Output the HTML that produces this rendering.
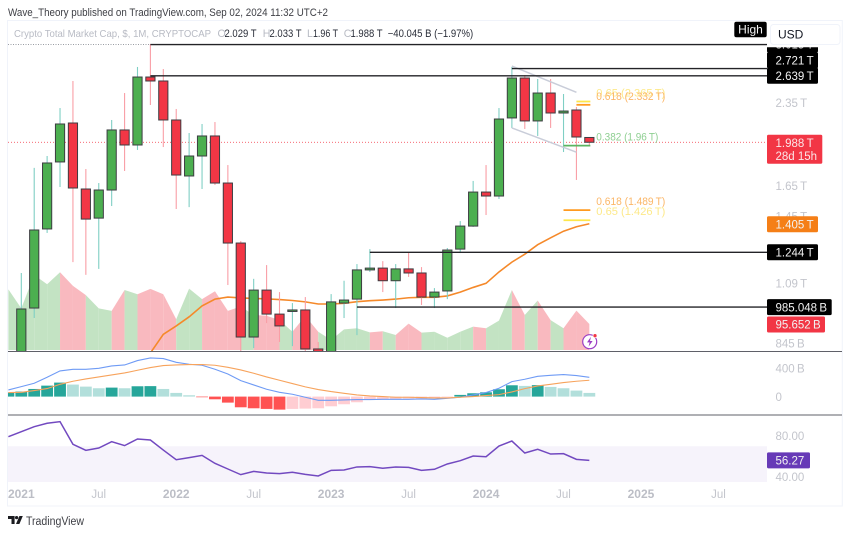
<!DOCTYPE html>
<html lang="en">
<head>
<meta charset="utf-8">
<title>Crypto Total Market Cap chart</title>
<style>
html,body{margin:0;padding:0;background:#fff;width:850px;height:534px;overflow:hidden}
svg{display:block;font-family:"Liberation Sans",Arial,sans-serif;filter:blur(0.35px)}
</style>
</head>
<body>
<svg id="chart" xmlns="http://www.w3.org/2000/svg" width="850" height="534" viewBox="0 0 850 534">
  <defs>
    <clipPath id="price-clip"><rect x="8" y="40" width="759" height="311"/></clipPath>
    <clipPath id="macd-clip"><rect x="8" y="352" width="759" height="63"/></clipPath>
    <clipPath id="rsi-clip"><rect x="8" y="416" width="759" height="66"/></clipPath>
    <clipPath id="label-clip"><rect x="760" y="47.3" width="85" height="300"/></clipPath>
  </defs>
  <rect x="0" y="0" width="850" height="534" fill="#ffffff"/>
  <rect x="7.5" y="20.5" width="834.8" height="485.5" fill="none" stroke="#f0f3fa"/>
  <text x="8" y="16" font-size="10.8" fill="#3f4046" textLength="320" lengthAdjust="spacingAndGlyphs">Wave_Theory published on TradingView.com, Sep 02, 2024 11:32 UTC+2</text>
  <text x="14" y="37" font-size="10.4" fill="#b8bbc4" textLength="197" lengthAdjust="spacingAndGlyphs">Crypto Total Market Cap, $, 1M, CRYPTOCAP</text>
  <g font-size="10.6">
    <text x="217.5" y="37" fill="#b8bbc4">O</text>
    <text x="224.5" y="37" fill="#2a2e39" textLength="32" lengthAdjust="spacingAndGlyphs">2.029 T</text>
    <text x="262.7" y="37" fill="#b8bbc4">H</text>
    <text x="269.5" y="37" fill="#2a2e39" textLength="32" lengthAdjust="spacingAndGlyphs">2.033 T</text>
    <text x="307" y="37" fill="#b8bbc4">L</text>
    <text x="313" y="37" fill="#2a2e39" textLength="25" lengthAdjust="spacingAndGlyphs">1.96 T</text>
    <text x="343.7" y="37" fill="#b8bbc4">C</text>
    <text x="350.5" y="37" fill="#2a2e39" textLength="32" lengthAdjust="spacingAndGlyphs">1.988 T</text>
    <text x="387.7" y="37" fill="#2a2e39" textLength="85.5" lengthAdjust="spacingAndGlyphs">−40.045 B (−1.97%)</text>
  </g>
  <g id="price-pane" clip-path="url(#price-clip)"></g>
  <g id="macd-pane" clip-path="url(#macd-clip)"></g>
  <g id="rsi-pane" clip-path="url(#rsi-clip)"></g>
  <line x1="8" x2="842" y1="351.5" y2="351.5" stroke="#5f6068" stroke-width="1"/>
  <line x1="8" x2="842" y1="415" y2="415" stroke="#5f6068" stroke-width="1"/>
  <g id="axis-labels"></g>
  <g id="value-labels"></g>
  <g>
    <rect x="734.3" y="21.7" width="32.4" height="15.6" rx="2" fill="#000"/>
    <text x="750.5" y="33.5" font-size="12" fill="#f4f4f4" text-anchor="middle">High</text>
  </g>
  <g>
    <rect x="770.5" y="24.5" width="69.5" height="20" rx="3" fill="#fff" stroke="#f0f3fa"/>
    <text x="778" y="38.5" font-size="12" fill="#131722">USD</text>
  </g>
  <g>
    <circle cx="589.7" cy="341.7" r="7" fill="#fff" stroke="#9c3fc4" stroke-width="1.2"/>
    <path d="M591 336.8l-4 5.6h2.6l-1 4.2 4-5.6h-2.6z" fill="#9c3fc4"/>
    <circle cx="595" cy="335.7" r="2" fill="#f23645" stroke="#fff" stroke-width=".7"/>
  </g>
  <g>
    <path d="M8 516h6.6v8h-3.1v-5H8z" fill="#1b1c20"/>
    <circle cx="16.6" cy="517.6" r="1.6" fill="#1b1c20"/>
    <path d="M19.4 516h3.4l-3.4 8h-3.4z" fill="#1b1c20"/>
    <text x="26" y="525" font-size="11.5" fill="#3f4046" textLength="58" lengthAdjust="spacingAndGlyphs">TradingView</text>
  </g>
</svg>
<script>
// ---- chart data (prices in trillions, Jan 2021 .. Sep 2024) ----
const opens = [0.76,0.981,1.374,1.828,2.158,1.629,1.439,1.622,2.095,1.965,2.625,2.581,
  2.186,1.722,1.875,2.042,1.671,1.294,0.867,1.059,0.956,0.973,0.973,0.824,
  0.78,1.002,1.019,1.154,1.163,1.102,1.159,1.139,1.028,1.055,1.261,1.391,
  1.608,1.581,2.205,2.614,2.177,2.452,2.252,2.281,2.029];
const highs = [1.139,1.782,1.875,2.3,2.581,1.774,1.671,2.186,2.452,2.74,3.022,2.716,
  2.291,2.068,2.149,2.167,1.804,1.305,1.111,1.178,1.05,1.002,1.028,0.849,
  1.041,1.102,1.183,1.261,1.198,1.183,1.24,1.168,1.068,1.267,1.421,1.686,
  1.804,2.3,2.74,2.648,2.603,2.603,2.442,2.31,2.033];
const lows = [0.74,0.94,1.351,1.643,1.193,1.13,1.159,1.515,1.759,1.924,2.33,1.948,
  1.496,1.508,1.629,1.657,1.082,0.8,0.827,0.92,0.849,0.834,0.8,0.8,
  0.76,0.94,0.874,1.144,1.05,0.981,1.12,0.994,0.981,1.019,1.24,1.386,
  1.458,1.561,2.113,2.104,2.042,2.113,1.907,1.693,1.96];
const closes = [0.977,1.368,1.82,2.149,1.636,1.433,1.622,2.095,1.965,2.625,2.581,2.186,
  1.729,1.875,2.042,1.671,1.294,0.867,1.059,0.956,0.909,0.973,0.824,0.81,
  1.007,1.015,1.154,1.163,1.102,1.159,1.139,1.028,1.05,1.256,1.391,1.608,
  1.581,2.195,2.614,2.177,2.452,2.252,2.271,2.033,1.988];
// volume in billions, Jan 2021 .. Sep 2024, first value is Dec 2020
const volumeStart = 223;
const volumes = [153,276,242,286,236,202,153,144,221,205,225,205,
  113,226,187,216,144,160,129,126,110,67,125,67,
  37,76,80,65,69,55,97,64,67,45,67,86,
  80,108,221,129,182,110,80,145,95.652];
// EMA in trillions, starting Nov 2021
const emaStartIndex = 10;
const emaValues = [0.81,0.877,0.909,0.945,0.99,1.019,1.028,1.024,1.022,1.02,1.017,1.013,1.007,0.998,
  0.998,1.001,1.008,1.012,1.015,1.019,1.025,1.027,1.027,1.033,1.05,1.071,
  1.09,1.144,1.193,1.234,1.285,1.323,1.361,1.387,1.405];
// MACD in billions, Dec 2020 .. Sep 2024
const macdLine = [94,141,188,273,363,386,386,400,433,447,509,546,537,
  485,457,443,386,320,226,165,104,61,33,-9,-52,
  -52,-47,-42,-42,-38,-38,-38,-33,-38,-24,-9,24,
  57,118,212,245,287,301,311,297,273];
const signalLine = [57,61,85,113,174,217,250,278,306,334,372,410,438,
  447,452,452,443,414,377,330,278,231,184,137,99,
  71,47,24,9,0,-9,-9,-14,-19,-19,-9,0,
  14,28,66,113,151,174,198,217,231];
const macdHist = [57,71,108,155,198,170,141,118,127,118,146,148,108,
  52,19,-9,-38,-85,-151,-165,-174,-184,-174,-170,-165,
  -137,-108,-80,-47,-38,-33,-28,-27,-24,-9,24,47,
  61,104,160,151,162,137,118,85,52];
// RSI, Dec 2020 .. Sep 2024
const rsiValues = [79.3,84.2,89.1,92.4,94,71.9,66,68.3,74.5,70.6,77.1,76.1,66.3,
  56.9,58.9,61.1,53.3,47.8,42.3,45.5,43.9,43.3,44.6,42.6,41,
  46.5,46.8,49.8,50.1,48.5,49.8,49.4,46.5,47.5,52.7,55.9,60.5,
  59.8,70.2,75.1,63.4,67,62.4,62.8,57.2,56.27];
// axis ticks
const priceTickValues = [2.35,1.65,1.45,1.09,0.845];
const priceTickLabels = ["2.35\u2009T","1.65\u2009T","1.45\u2009T","1.09\u2009T","845\u2009B"];
const macdTickValues = [400,0];
const macdTickLabels = ["400\u2009B","0"];
const rsiTickValues = [80,40];
const rsiTickLabels = ["80.00","40.00"];
const timeTickMonths = [0,6,12,18,24,30,36,42,48,54];
const timeTickLabels = ["2021","Jul","2022","Jul","2023","Jul","2024","Jul","2025","Jul"];
// horizontal levels, highest first
const levelValues = [3.015,2.721,2.639,1.244,0.985];
const levelLabels = ["3.015\u2009T","2.721\u2009T","2.639\u2009T","1.244\u2009T","985.048\u2009B"];
const levelStartMonth = [10,38,10,27,26];
// fibonacci levels
const fibValues = [2.365,2.332,1.96,1.489,1.426];
const fibLabels = ["0.65 (2.365\u2009T)","0.618 (2.332\u2009T)","0.382 (1.96\u2009T)","0.618 (1.489\u2009T)","0.65 (1.426\u2009T)"];
const fibStartMonth = [43,43,42,42,42];
const fibKinds = ["yellow","orange","green","orange","yellow"];
// descending channel (month, price)
const channelMonths = [38,43];
const channelUpper = [2.75,2.46];
const channelLower = [2.113,1.906];

// ---- axis functions ----
function xAt(i){return 21.3+12.91*i;}
function yPrice(v){return 103-234.7*Math.log(v/2.35);}
function yVolume(v){return 350-v/3.68;}
function yMacd(v){return 396.6-v/14.13;}
function yRsi(v){return 477-(v-40)*1.025;}

const NS="http://www.w3.org/2000/svg";
function mk(tag,attrs,parent,text){
  const el=document.createElementNS(NS,tag);
  for(const k in attrs){el.setAttribute(k,attrs[k]);}
  if(text!==undefined){el.textContent=text;}
  parent.appendChild(el);
  return el;
}
function pathFrom(values,xFn,yFn){
  return values.map(function(v,i){return (i?"L":"M")+xFn(i).toFixed(2)+" "+yFn(v).toFixed(2);}).join("");
}
const pricePane=document.getElementById("price-pane");
const macdPane=document.getElementById("macd-pane");
const rsiPane=document.getElementById("rsi-pane");
const axisLabels=document.getElementById("axis-labels");
const valueLabels=document.getElementById("value-labels");
const lastIndex=closes.length-1;
const isUp=function(i){return closes[i]>=opens[i];};

// volume area segments
const volumeAll=[volumeStart].concat(volumes);
volumes.forEach(function(v,i){
  const x0=xAt(i-1),x1=xAt(i);
  const up=isUp(i);
  const seg=mk("polygon",{points:x0+","+yVolume(0)+" "+x0+","+yVolume(volumeAll[i])+" "+x1+","+yVolume(v)+" "+x1+","+yVolume(0),fill:up?"#c3e3c3":"#f9b9bf"},pricePane);
  
  
});

// EMA line (under candles)
const emaPath=mk("path",{d:pathFrom(emaValues,function(i){return xAt(i+emaStartIndex);},yPrice),fill:"none",stroke:"#f5892a","stroke-width":1.6},pricePane);



// current price line
const priceLine=mk("line",{x1:8,x2:767,y1:yPrice(closes[lastIndex]),y2:yPrice(closes[lastIndex]),stroke:"#f23645","stroke-width":0.8,"stroke-dasharray":"1 2"},pricePane);



// candles
closes.forEach(function(c,i){
  const x=xAt(i),up=isUp(i);
  const g=mk("g",{},pricePane);
  
  
  const wick=mk("line",{x1:x,x2:x,y1:yPrice(highs[i]),y2:yPrice(lows[i]),stroke:up?"#7fcfc4":"#f99ea6","stroke-width":1.1},g);
  
  
  const top=yPrice(Math.max(opens[i],c)),bot=yPrice(Math.min(opens[i],c));
  const body=mk("rect",{x:x-4.6,y:top,width:9.2,height:Math.max(bot-top,1.5),fill:up?"#4caf50":"#f23645",stroke:"#3d3d42","stroke-width":1},g);
  
  
});

// channel
[channelUpper,channelLower].forEach(function(arr){
  const ln=mk("line",{x1:xAt(channelMonths[0]),x2:xAt(channelMonths[1]),y1:yPrice(arr[0]),y2:yPrice(arr[1]),stroke:"#c9cdd9","stroke-width":1.5},pricePane);
  
  
});

// fib levels
const fibColors={yellow:"#fde64b",orange:"#ff9a1f",green:"#5cb562"};
const fibText={yellow:"#fde98a",orange:"#fbb667",green:"#8fcf92"};
fibValues.forEach(function(v,i){
  const y=yPrice(v);
  const ln=mk("line",{x1:xAt(fibStartMonth[i]),x2:xAt(lastIndex)+1,y1:y,y2:y,stroke:fibColors[fibKinds[i]],"stroke-width":1.8},pricePane);
  
  
  const t=mk("text",{x:596.3,y:y-5,"font-size":10.8,fill:fibText[fibKinds[i]],textLength:i===2?62:69,lengthAdjust:"spacingAndGlyphs"},axisLabels,fibLabels[i]);
  
  
});

// horizontal levels
const topDotted=mk("line",{x1:8,x2:xAt(levelStartMonth[0]),y1:yPrice(levelValues[0]),y2:yPrice(levelValues[0]),stroke:"#9a9ca3","stroke-width":1,"stroke-dasharray":"1 1.5"},pricePane);


levelValues.forEach(function(v,i){
  const ln=mk("line",{x1:xAt(levelStartMonth[i]),x2:767,y1:yPrice(v),y2:yPrice(v),stroke:"#232327","stroke-width":1.4},pricePane);
  
  
});

// MACD pane
macdHist.forEach(function(v,i){
  const prev=i?macdHist[i-1]:v;
  const rising=v>=prev;
  const fill=v>=0?(rising?"#26a69a":"#b2dfdb"):(rising?"#ffcdd2":"#ff5252");
  const y0=yMacd(0),y1=yMacd(v);
  const bar=mk("rect",{x:xAt(i-1)-5.9,y:Math.min(y0,y1),width:11.8,height:Math.abs(y1-y0),fill:fill},macdPane);
  
  
});
const macdPath=mk("path",{d:pathFrom(macdLine,function(i){return xAt(i-1);},yMacd),fill:"none",stroke:"#6f9bf5","stroke-width":1.1},macdPane);


const signalPath=mk("path",{d:pathFrom(signalLine,function(i){return xAt(i-1);},yMacd),fill:"none",stroke:"#f7a35c","stroke-width":1.1},macdPane);



// RSI pane
const rsiBand=mk("rect",{x:8,y:yRsi(70),width:759,height:yRsi(30)-yRsi(70),fill:"#f6f3fb"},rsiPane);


const rsiPath=mk("path",{d:pathFrom(rsiValues,function(i){return xAt(i-1);},yRsi),fill:"none",stroke:"#7249c0","stroke-width":1.5},rsiPane);



// axis tick labels
function axisTick(label,y){
  const t=mk("text",{x:775.5,y:y+4.2,"font-size":11.5,fill:"#c3c5cc"},axisLabels,label);
  return t;
}
priceTickValues.forEach(function(v,i){
  const t=axisTick(priceTickLabels[i],yPrice(v));
  
  
});
macdTickValues.forEach(function(v,i){
  const t=axisTick(macdTickLabels[i],yMacd(v));
  
  
});
rsiTickValues.forEach(function(v,i){
  const t=axisTick(rsiTickLabels[i],yRsi(v));
  
  
});
timeTickMonths.forEach(function(m,i){
  const isYear=timeTickLabels[i].length===4;
  const t=mk("text",{x:xAt(m),y:498,"font-size":isYear?12:11.5,"font-weight":isYear?"bold":"normal",fill:isYear?"#bcbec6":"#c3c5cc","text-anchor":"middle"},axisLabels,timeTickLabels[i]);
  
  
});

// value label boxes on the right scale
function valueBox(label,yCenter,width,fill,parent){
  const g=mk("g",{},parent);
  mk("rect",{x:767,y:yCenter-8,width:width,height:16,rx:1.5,fill:fill},g);
  mk("text",{x:775.5,y:yCenter+4.2,"font-size":11.5,fill:"#f2f2f2"},g,label);
  return g;
}
const levelGroup=mk("g",{"clip-path":"url(#label-clip)"},valueLabels);


const labelYs=levelValues.map(yPrice);
for(let i=levelValues.length-2;i>=0;i--){
  labelYs[i]=Math.min(labelYs[i],labelYs[i+1]-15.5);
}
levelValues.forEach(function(v,i){
  const box=valueBox(levelLabels[i],labelYs[i],i===4?64.7:51,"#000",levelGroup);
  
  
});
const yLast=yPrice(closes[lastIndex]);
const closeBox=mk("g",{},valueLabels);


mk("rect",{x:767,y:yLast-7.5,width:55.3,height:29,rx:1.5,fill:"#f23645"},closeBox);
mk("text",{x:775.5,y:yLast+4.5,"font-size":11.5,fill:"#fbe6e8"},closeBox,"1.988\u2009T");
mk("text",{x:775.5,y:yLast+17.5,"font-size":11.5,fill:"#fbe6e8"},closeBox,"28d 15h");
const emaBox=valueBox("1.405\u2009T",yPrice(emaValues[emaValues.length-1])+0.5,51,"#f57f17",valueLabels);


const volBox=valueBox("95.652\u2009B",yVolume(volumes[volumes.length-1])+0.5,58,"#f23645",valueLabels);


const rsiBox=valueBox("56.27",yRsi(rsiValues[rsiValues.length-1]),43,"#673ab7",valueLabels);


</script>
</body>
</html>
